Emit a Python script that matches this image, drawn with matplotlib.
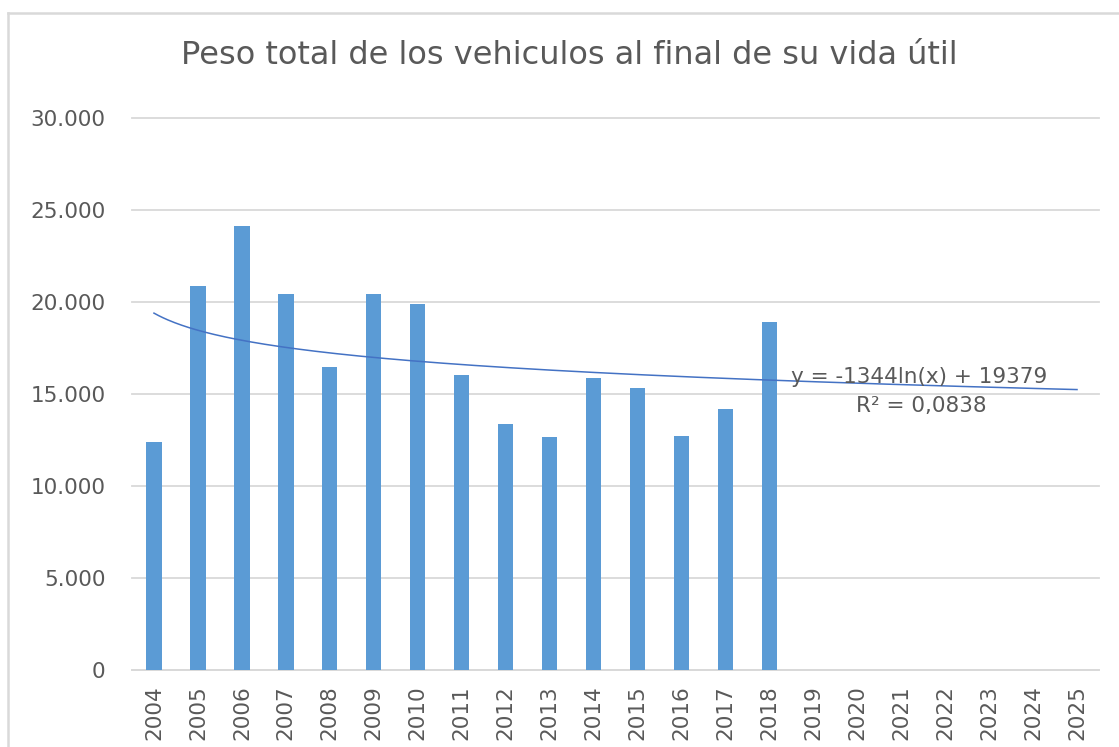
import numpy as np
import matplotlib
matplotlib.use("Agg")
import matplotlib.pyplot as plt
from matplotlib.lines import Line2D
from matplotlib.ticker import FuncFormatter

# ---- data ----
years = [str(y) for y in range(2004, 2026)]
bar_years = [str(y) for y in range(2004, 2019)]
peso = [12375, 20850, 24110, 20420, 16450, 20420, 19870, 16020,
        13350, 12650, 15850, 15310, 12700, 14170, 18900]
trend_a = -1344
trend_b = 19379
r2_text = "0,0838"
y_ticks = [0, 5000, 10000, 15000, 20000, 25000, 30000]
title = "Peso total de los vehiculos al final de su vida útil"

W, H = 1119, 747
fig = plt.figure(figsize=(W / 100, H / 100), dpi=100)
fig.patch.set_facecolor("white")

ax = fig.add_axes([132 / W, 1 - 669.7 / H, (1099 - 132) / W, (669.7 - 117.7) / H])

text_color = "#595959"
grid_color = "#D9D9D9"

xpos = np.arange(len(years))
bar_x = [years.index(y) for y in bar_years]
ax.bar(bar_x, peso, width=0.35, color="#5B9BD5", zorder=3)

# logarithmic trendline over all categories (x = 1..22)
xi = np.linspace(1, len(years), 400)
ax.plot(xi - 1, trend_a * np.log(xi) + trend_b, color="#4472C4", lw=1.1, zorder=4)

ax.set_xlim(-0.5, len(years) - 0.5)
ax.set_ylim(0, 30000)
ax.set_yticks(y_ticks)
ax.yaxis.set_major_formatter(FuncFormatter(lambda v, p: f"{int(v):,}".replace(",", ".")))
ax.set_xticks(xpos)
ax.set_xticklabels(years, rotation=90)

ax.grid(axis="y", color=grid_color, lw=1.3, zorder=0)
for gl in ax.get_ygridlines():
    gl.set_clip_on(False)
for s in ["top", "right", "left"]:
    ax.spines[s].set_visible(False)
ax.spines["bottom"].set_color(grid_color)
ax.spines["bottom"].set_linewidth(1.3)
ax.tick_params(axis="both", length=0, colors=text_color, labelsize=15.5)
ax.tick_params(axis="y", pad=19)
ax.tick_params(axis="x", pad=11)

# trendline label
fig.text(919.5 / W, 1 - 377 / H, "y = -1344ln(x) + 19379", ha="center", va="center",
         color=text_color, fontsize=15.5)
fig.text(921 / W, 1 - 406 / H, "R² = " + r2_text, ha="center", va="center",
         color=text_color, fontsize=15.5)

# title
fig.text(569 / W, 1 - 64 / H, title, ha="center", va="baseline",
         color=text_color, fontsize=23)

# chart border (left and top)
fig.add_artist(Line2D([7.5 / W, 7.5 / W], [0, 1 - 12.5 / H], color=grid_color, lw=1.8))
fig.add_artist(Line2D([7.5 / W, 1.0], [1 - 12.5 / H, 1 - 12.5 / H], color=grid_color, lw=1.8))

fig.savefig("out.png", dpi=100)
